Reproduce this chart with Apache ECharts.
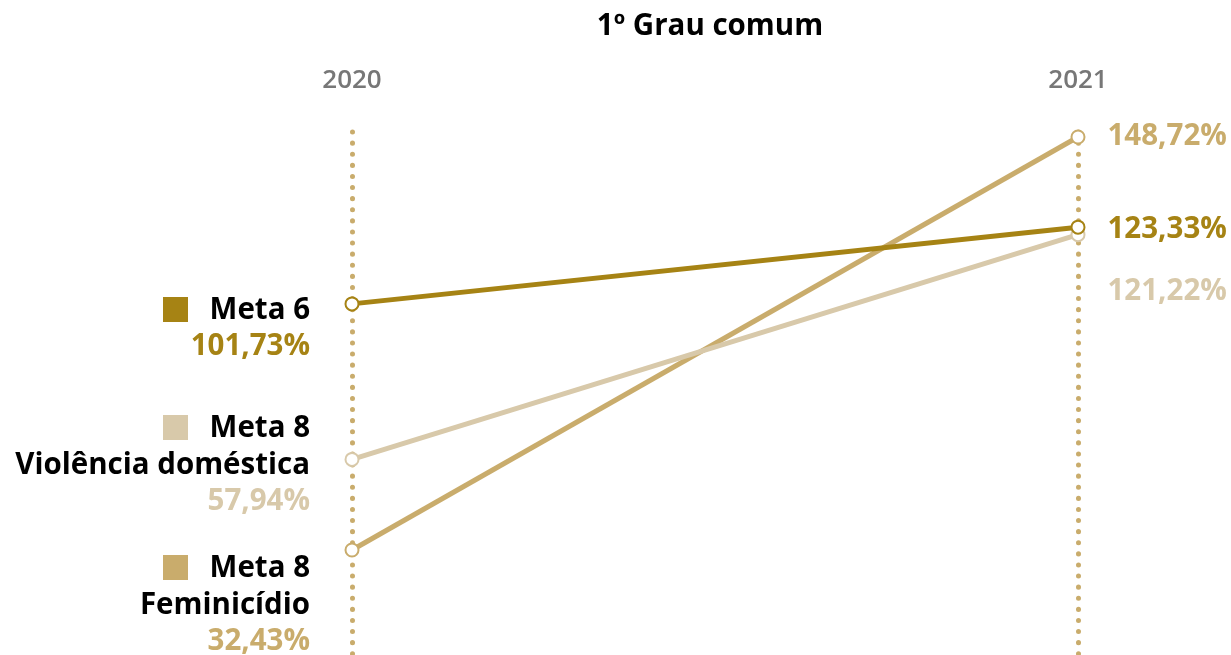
<!DOCTYPE html>
<html>
<head>
<meta charset="utf-8">
<script src="https://cdn.jsdelivr.net/npm/echarts@6/dist/echarts.min.js"></script>
<style>
html,body{margin:0;padding:0;background:#fff;}
#main{width:1231px;height:655px;}
</style>
</head>
<body>
<div id="main"></div>
<script>
// ---- data ----
const chartTitle = '1º Grau comum';
const years = ['2020', '2021'];
const meta6 = [101.73, 123.33];
const meta8Violencia = [57.94, 121.22];
const meta8Feminicidio = [32.43, 148.72];
const seriesNames = ['Meta 6', 'Meta 8 Violência doméstica', 'Meta 8 Feminicídio'];
const legendLines = [['Meta 6'], ['Meta 8', 'Violência doméstica'], ['Meta 8', 'Feminicídio']];

// ---- style ----
const colors = ['#a68314', '#d8c9aa', '#c9ac6c'];
const labelShiftY = [2, 57, 0]; // end-label nudges so close labels do not overlap
const FONT = '"Open Sans", "Noto Sans", sans-serif';
const fmt = v => v.toFixed(2).replace('.', ',') + '%';

const chart = echarts.init(document.getElementById('main'), null, {renderer: 'canvas'});

const seriesData = [meta6, meta8Violencia, meta8Feminicidio];
// drawing order: Feminicídio bottom, then Violência, Meta 6 on top
const drawOrder = [2, 1, 0];

const series = drawOrder.map(i => ({
  name: seriesNames[i],
  type: 'line',
  data: seriesData[i],
  z: 2 + (2 - i),
  symbol: 'circle',
  symbolSize: 13,
  itemStyle: {color: '#fff', borderColor: colors[i], borderWidth: 2},
  lineStyle: {color: colors[i], width: 5},
  emphasis: {disabled: true},
  clip: false,
  label: {
    show: true,
    position: 'right',
    distance: 22,
    offset: [0, labelShiftY[i]],
    color: colors[i],
    fontFamily: FONT,
    fontWeight: 'bold',
    fontSize: 29.5,
    formatter: p => p.dataIndex === 1 ? fmt(p.value) : ''
  }
}));

// left legend blocks
const graphics = [];
const blockTops = [311, 429, 569];
const lineGap = 37;
const rightX = 310;
[0, 1, 2].forEach(i => {
  const lines = legendLines[i];
  const y0 = blockTops[i];
  graphics.push({
    type: 'rect',
    shape: {x: 163, y: y0 - 14, width: 25, height: 25},
    style: {fill: colors[i]}
  });
  lines.forEach((t, k) => {
    graphics.push({
      type: 'text',
      x: rightX, y: y0 + k * lineGap,
      style: {text: t, align: 'right', verticalAlign: 'middle',
              font: 'bold 29.5px ' + FONT, fill: '#000'}
    });
  });
  graphics.push({
    type: 'text',
    x: rightX, y: y0 + lines.length * lineGap - 1,
    style: {text: fmt(seriesData[i][0]), align: 'right', verticalAlign: 'middle',
            font: 'bold 29.5px ' + FONT, fill: colors[i]}
  });
});
graphics.push({
  type: 'text',
  x: 710, y: 27,
  style: {text: chartTitle, align: 'center', verticalAlign: 'middle',
          font: 'bold 29.5px ' + FONT, fill: '#000'}
});

// y scale anchored so extreme values land as in the reference
const gridTop = 132;
const pxPerUnit = (550 - 137) / (148.72 - 32.43);
const yMax = 148.72 + (137 - gridTop) / pxPerUnit;
const yMin = 32.43 - (655 - 550) / pxPerUnit;

chart.setOption({
  animation: false,
  graphic: graphics,
  grid: {left: 352, right: 153, top: gridTop, bottom: 0, containLabel: false},
  xAxis: {
    type: 'category',
    data: years,
    boundaryGap: false,
    position: 'top',
    axisLine: {show: false},
    axisTick: {show: false},
    axisLabel: {color: '#777', fontFamily: FONT, fontWeight: 600, fontSize: 26, margin: 38},
    splitLine: {show: true, lineStyle: {color: '#c9ac6c', width: 5, type: [0.1, 11], cap: 'round'}}
  },
  yAxis: {
    type: 'value',
    min: yMin,
    max: yMax,
    show: false,
    splitLine: {show: false}
  },
  series: series
});
</script>
</body>
</html>
